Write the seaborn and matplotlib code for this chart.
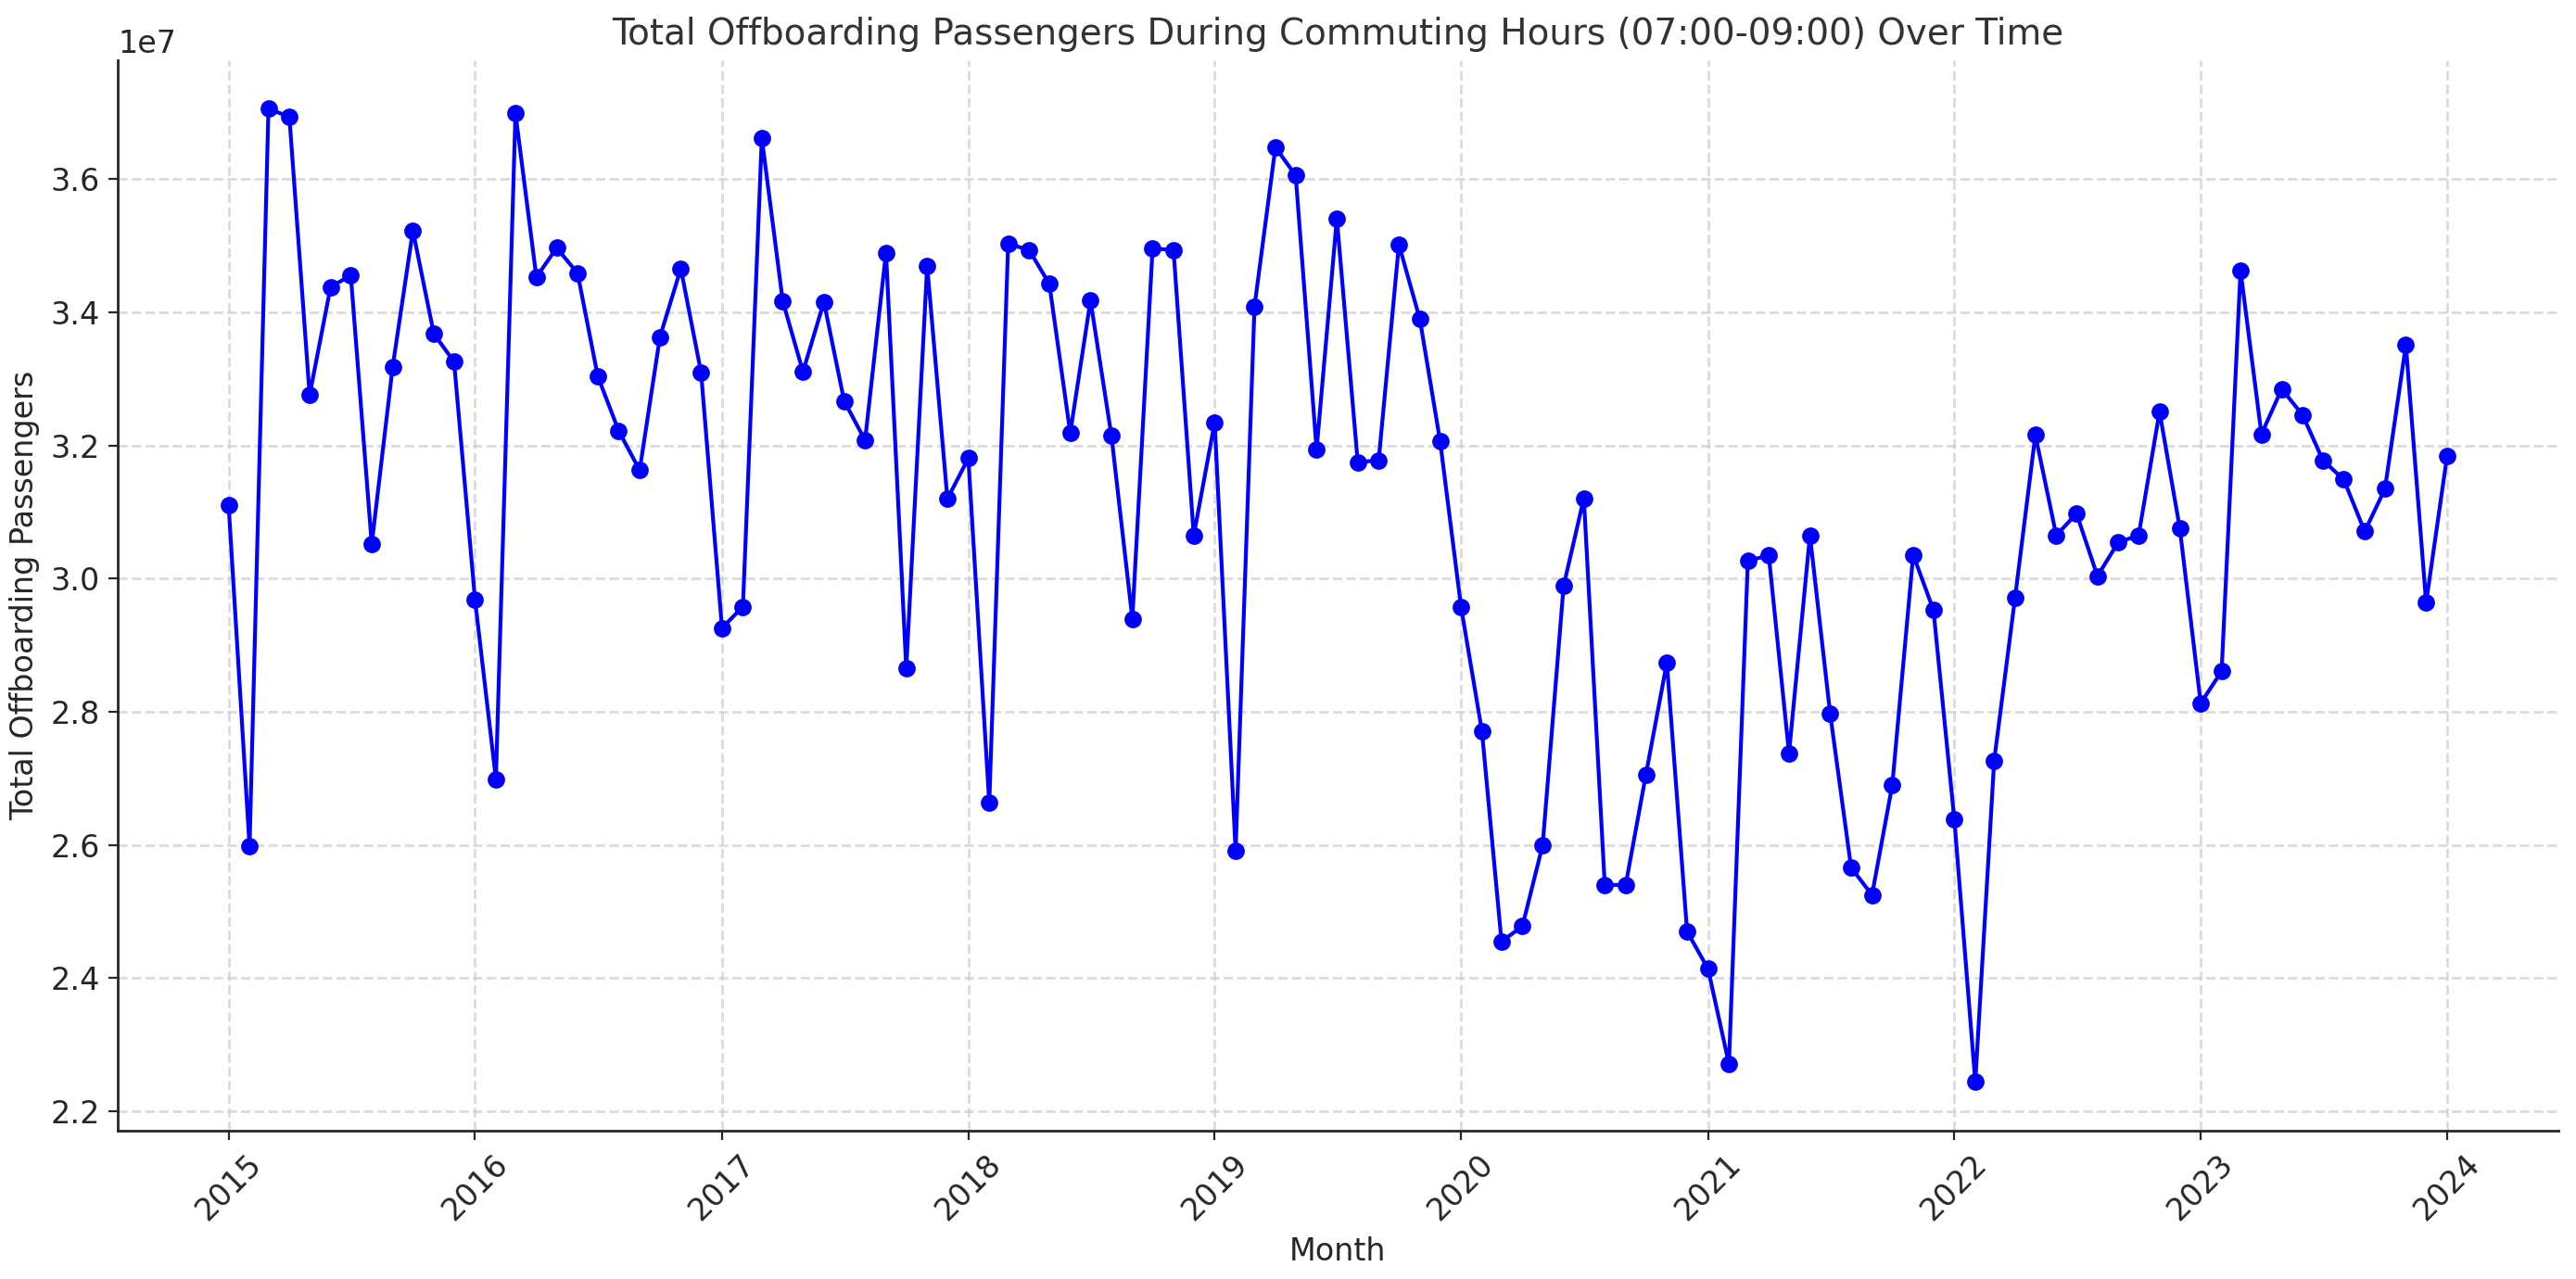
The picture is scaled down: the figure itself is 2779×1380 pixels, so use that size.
import matplotlib
matplotlib.use("Agg")
import matplotlib.pyplot as plt
import matplotlib.dates as mdates
import seaborn as sns
import pandas as pd
import numpy as np

# Monthly values (in units of 1e7 passengers), Jan 2015 .. Jan 2024
y2015 = [3.110, 2.598, 3.706, 3.694, 3.276, 3.438, 3.456, 3.052, 3.318, 3.523, 3.368, 3.326]
y2016 = [2.969, 2.699, 3.699, 3.453, 3.497, 3.459, 3.304, 3.222, 3.163, 3.363, 3.466, 3.310]
y2017 = [2.926, 2.958, 3.662, 3.417, 3.311, 3.416, 3.267, 3.208, 3.490, 2.865, 3.470, 3.120]
y2018 = [3.181, 2.663, 3.503, 3.494, 3.443, 3.219, 3.418, 3.215, 2.940, 3.496, 3.494, 3.065]
y2019 = [3.235, 2.591, 3.409, 3.648, 3.606, 3.194, 3.541, 3.175, 3.178, 3.502, 3.390, 3.207]
y2020 = [2.958, 2.771, 2.455, 2.478, 2.600, 2.989, 3.121, 2.540, 2.540, 2.706, 2.874, 2.470]
y2021 = [2.414, 2.271, 3.027, 3.035, 2.738, 3.065, 2.797, 2.566, 2.525, 2.690, 3.036, 2.953]
y2022 = [2.638, 2.244, 2.727, 2.972, 3.216, 3.065, 3.098, 3.004, 3.055, 3.065, 3.251, 3.076]
y2023 = [2.813, 2.861, 3.463, 3.217, 3.285, 3.246, 3.178, 3.149, 3.071, 3.135, 3.351, 2.964]
y2024 = [3.184]

start_month = "2015-01-01"
values_1e7 = y2015 + y2016 + y2017 + y2018 + y2019 + y2020 + y2021 + y2022 + y2023 + y2024
months = pd.date_range(start_month, periods=len(values_1e7), freq="MS")

title = "Total Offboarding Passengers During Commuting Hours (07:00-09:00) Over Time"
xlabel = "Month"
ylabel = "Total Offboarding Passengers"

df = pd.DataFrame({"Month": months, "Passengers": np.array(values_1e7) * 1e7})

sns.set_theme(style="ticks", context="notebook",
              rc={"xtick.labelsize": 12, "ytick.labelsize": 12,
                  "axes.titlesize": 14, "axes.labelsize": 12,
                  "xtick.major.size": 3.5, "ytick.major.size": 3.5,
                  "xtick.major.pad": 3.5, "ytick.major.pad": 3.5,
                  "xtick.major.width": 0.8, "ytick.major.width": 0.8,
                  "axes.linewidth": 1.0})
fig, ax = plt.subplots(figsize=(13.895, 6.9), dpi=200)

sns.lineplot(data=df, x="Month", y="Passengers", marker="o", color="blue",
             markeredgecolor="blue", markersize=6, linewidth=1.5, ax=ax)

ax.set_title(title, color="#333333")
ax.set_xlabel(xlabel)
ax.set_ylabel(ylabel)
ax.xaxis.set_major_locator(mdates.YearLocator())
ax.xaxis.set_major_formatter(mdates.DateFormatter("%Y"))
plt.setp(ax.get_xticklabels(), rotation=45)
ax.grid(True, linestyle="--", alpha=0.7)
sns.despine(ax=ax)

fig.subplots_adjust(left=0.0457, right=0.993, top=0.953, bottom=0.116)
fig.savefig("out.png", dpi=200)
